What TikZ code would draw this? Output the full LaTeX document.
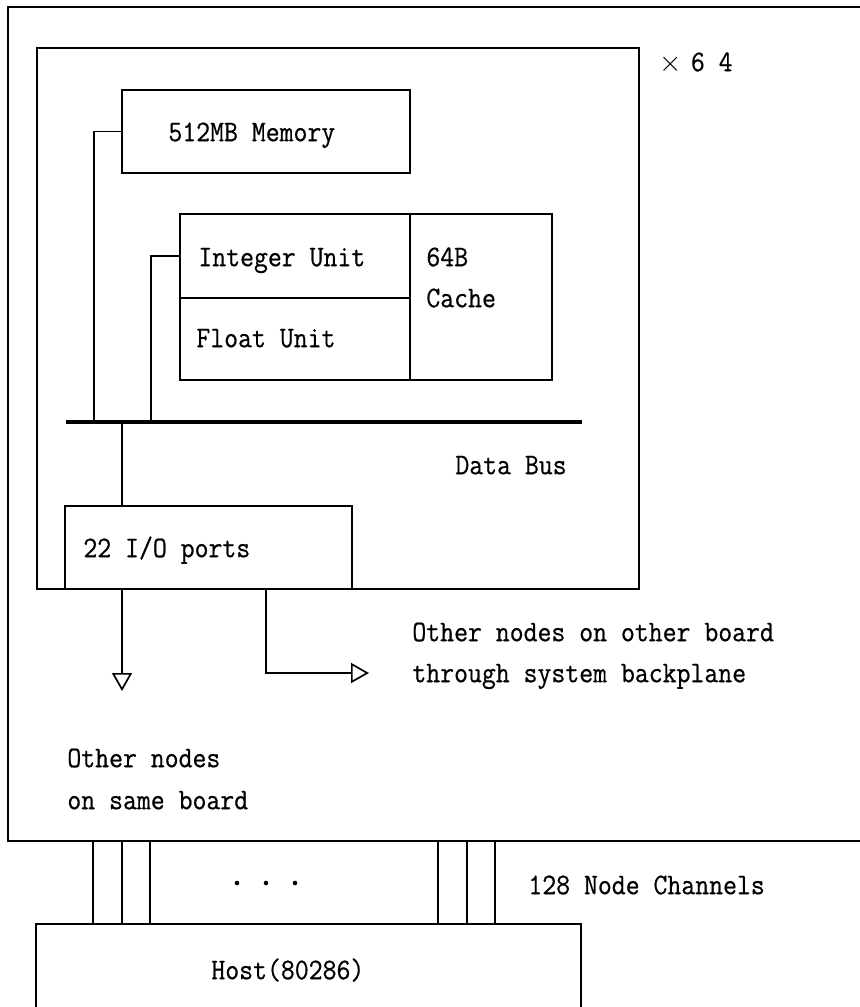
\documentclass[tikz,border=0pt]{standalone}
\usepackage{fontspec}
\newfontfamily\diagfont{Latin Modern Mono}[FakeStretch=0.9, FakeBold=0.6]
\usetikzlibrary{arrows.meta,positioning,calc}

\begin{document}
\begin{tikzpicture}[
    x=0.5pt, y=-0.5pt,
    box/.style={draw, line width=1.2pt, inner sep=0pt, outer sep=0pt, anchor=north west},
    txt/.style={font=\fontsize{15}{18}\selectfont\diagfont, inner sep=0pt,
                anchor=west, text height=9.2pt, text depth=0pt},
    wire/.style={line width=0.85pt},
    bus/.style={line width=2.2pt},
    chan/.style={line width=0.75pt},
    dot/.style={circle, fill, inner sep=0pt, minimum size=2.3pt},
    arr/.style={wire, -{Triangle[open, length=9pt, width=10pt]}}
  ]
  \useasboundingbox (0,0) rectangle (860,1007);

  % board and one processing node
  \node[box, minimum width=450pt, minimum height=417pt] (board) at (8,7) {};
  \node[box, minimum width=301pt, minimum height=270.5pt] (pe) at (37,48) {};
  \node[txt] (times) at (659,62) {\makebox[1.05em][l]{$\times$}6 4};

  % memory
  \node[box, minimum width=144pt, minimum height=41.5pt] (mem) at (122,90) {};
  \node[txt] (memtxt) at (168,132) {512MB Memory};

  % processor
  \node[box, minimum width=115pt, minimum height=42pt] (int) at (180,214) {};
  \node[box, minimum width=115pt, minimum height=41pt] (flt) at (180,298) {};
  \node[box, minimum width=71pt, minimum height=83pt] (cache) at (410,214) {};
  \node[txt] (inttxt) at (198,257) {Integer Unit};
  \node[txt] (flttxt) at (196,338) {Float Unit};
  \node[txt] (cachetxt1) at (426,257) {64B};
  \node[txt] (cachetxt2) at (426,298) {Cache};

  % data bus
  \coordinate (busw) at (66,422);
  \coordinate (buse) at (582,422);
  \coordinate (tapmem) at (94,422);
  \coordinate (tapcpu) at (151,422);
  \coordinate (tapio) at (122,422);
  \draw[bus] (busw) -- (buse);
  \node[txt] (bustxt) at (455,465) {Data Bus};
  \draw[wire] (mem.west) -| (tapmem);
  \draw[wire] (int.west) -| (tapcpu);

  % I/O ports
  \node[box, minimum width=143.5pt, minimum height=41.5pt] (io) at (65,506) {};
  \node[txt] (iotxt) at (83,548) {22 I/O ports};
  \draw[wire] (tapio) -- (tapio |- io.north);

  \coordinate (samebd) at (122,691);
  \coordinate (otherbd) at (369,673);
  \draw[arr] (samebd |- io.south) -- (samebd);
  \draw[arr] ([xshift=100.5pt]io.south west) |- (otherbd);
  \node[txt] (othtxt1) at (412,632) {Other nodes on other board};
  \node[txt] (othtxt2) at (412,673) {through system backplane};
  \node[txt] (sametxt1) at (67,758) {Other nodes};
  \node[txt] (sametxt2) at (67,800) {on same board};

  % host and node channels
  \node[box, minimum width=272.5pt, minimum height=60pt] (host) at (36,924) {};
  \node[txt] (hosttxt) at (211,970) {Host(80286)};
  \foreach \cx in {93,122,150,438,467,495}
    \draw[chan] (\cx,0 |- board.south) -- (\cx,0 |- host.north);
  \foreach \dx [count=\i] in {237,266,295}
    \node[dot] (dot\i) at (\dx,883) {};
  \node[txt] (chantxt) at (528,885) {128 Node Channels};
\end{tikzpicture}
\end{document}
